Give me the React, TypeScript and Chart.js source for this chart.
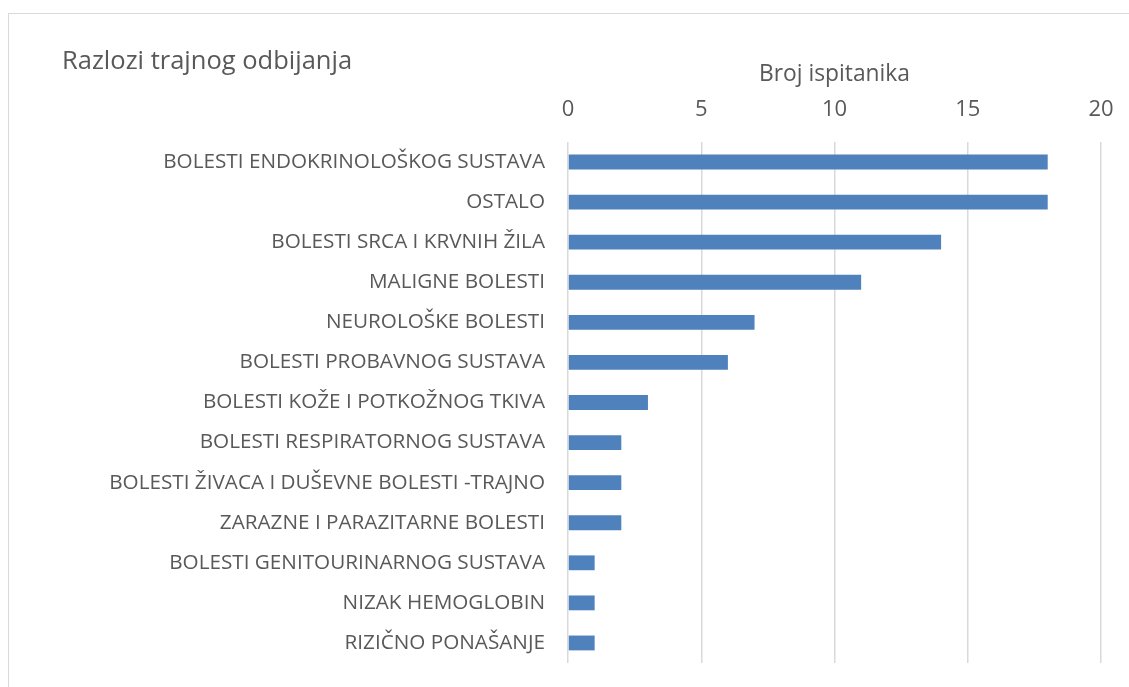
import React, { useEffect, useRef } from "react";
import { Chart, registerables } from "chart.js";

Chart.register(...registerables);

const categories: string[] = [
  "BOLESTI ENDOKRINOLOŠKOG SUSTAVA",
  "OSTALO",
  "BOLESTI SRCA I KRVNIH ŽILA",
  "MALIGNE BOLESTI",
  "NEUROLOŠKE BOLESTI",
  "BOLESTI PROBAVNOG SUSTAVA",
  "BOLESTI KOŽE I POTKOŽNOG TKIVA",
  "BOLESTI RESPIRATORNOG SUSTAVA",
  "BOLESTI ŽIVACA I DUŠEVNE BOLESTI -TRAJNO",
  "ZARAZNE I PARAZITARNE BOLESTI",
  "BOLESTI GENITOURINARNOG SUSTAVA",
  "NIZAK HEMOGLOBIN",
  "RIZIČNO PONAŠANJE",
];

const counts: number[] = [18, 18, 14, 11, 7, 6, 3, 2, 2, 2, 1, 1, 1];

const xTicks: number[] = [0, 5, 10, 15, 20];

const chartTitle = "Razlozi trajnog odbijanja";
const axisTitle = "Broj ispitanika";

const FONT = "'Open Sans', 'Liberation Sans', sans-serif";
const TEXT = "#595959";

export default function App() {
  const ref = useRef<HTMLCanvasElement | null>(null);

  useEffect(() => {
    if (!ref.current) return;
    const chart = new Chart(ref.current, {
      type: "bar",
      data: {
        labels: categories,
        datasets: [
          {
            data: counts,
            backgroundColor: "#4F81BD",
            borderWidth: 0,
            categoryPercentage: 1,
            barPercentage: 0.37,
          },
        ],
      },
      options: {
        indexAxis: "y",
        animation: false,
        responsive: false,
        maintainAspectRatio: false,
        layout: { padding: { left: 53, right: 28, top: 0, bottom: 24 } },
        plugins: {
          legend: { display: false },
          tooltip: { enabled: false },
          title: {
            display: true,
            text: chartTitle,
            align: "start",
            color: TEXT,
            font: { family: FONT, size: 25.5, weight: "normal", lineHeight: 1.2 },
            padding: { top: 32.7, bottom: -16 },
          },
        },
        scales: {
          x: {
            position: "top",
            min: 0,
            max: 20,
            afterBuildTicks: (scale: any) => {
              scale.ticks = xTicks.map((v) => ({ value: v }));
            },
            afterFit: (scale: any) => {
              scale.height = 80.7;
              scale.paddingLeft = 0;
              scale.paddingRight = 0;
            },
            ticks: {
              color: TEXT,
              padding: 18.8,
              font: { family: FONT, size: 22, lineHeight: 1.2 },
            },
            grid: {
              color: "#d9d9d9",
              lineWidth: 1.5,
              drawTicks: false,
            },
            border: { display: false },
            title: {
              display: true,
              text: axisTitle,
              color: TEXT,
              padding: { top: 0, bottom: 0 },
              font: { family: FONT, size: 22.8, lineHeight: 1.2 },
            },
          },
          y: {
            afterFit: (scale: any) => {
              scale.width = 506;
              scale.paddingTop = 0;
              scale.paddingBottom = 0;
            },
            ticks: {
              color: TEXT,
              padding: 23,
              autoSkip: false,
              font: { family: FONT, size: 20.7, lineHeight: 1.2 },
            },
            grid: { display: false, drawTicks: false },
            border: { display: false },
          },
        },
      },
    });
    return () => chart.destroy();
  }, []);

  return (
    <div
      style={{
        position: "absolute",
        left: 8,
        top: 13,
        width: 1121,
        height: 674,
        borderLeft: "1px solid #d9d9d9",
        borderTop: "1px solid #d9d9d9",
        boxSizing: "border-box",
        overflow: "hidden",
        background: "#fff",
      }}
    >
      <canvas ref={ref} width={1120} height={673} style={{ display: "block" }} />
    </div>
  );
}
